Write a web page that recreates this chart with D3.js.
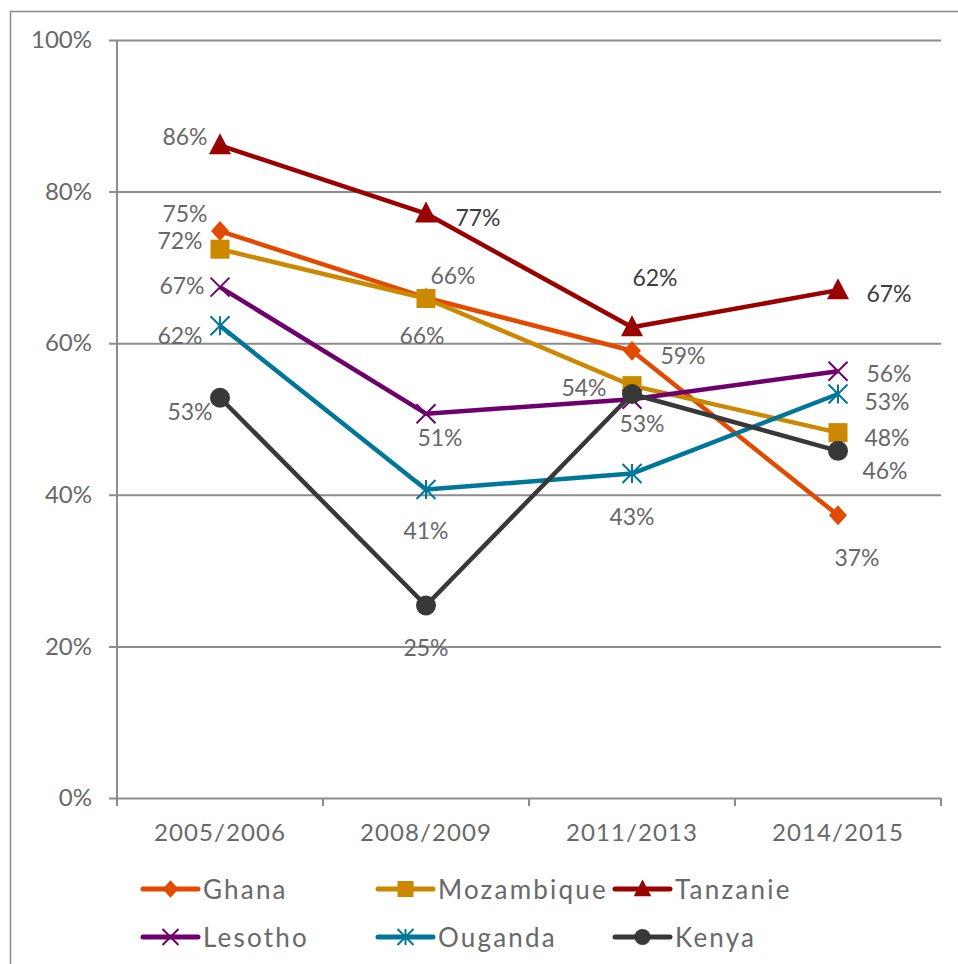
<!DOCTYPE html>
<html><head><meta charset="utf-8">
<script src="https://cdn.jsdelivr.net/npm/d3@7/dist/d3.min.js"></script>
<style>
html,body{margin:0;padding:0;background:#fff;}
text{font-family:"Lato","Noto Sans",sans-serif;}
</style></head>
<body>
<svg id="chart" width="958" height="964"></svg>
<script>
// ---- data ----
const categories = ["2005/2006", "2008/2009", "2011/2013", "2014/2015"];
const seriesNames = ["Ghana", "Mozambique", "Tanzanie", "Lesotho", "Ouganda", "Kenya"];
const ghana      = [74.8, 66.0, 59.0, 37.3];
const mozambique = [72.4, 65.9, 54.4, 48.2];
const tanzanie   = [86.1, 77.1, 62.1, 67.0];
const lesotho    = [67.4, 50.7, 52.6, 56.3];
const ouganda    = [62.3, 40.7, 42.8, 53.3];
const kenya      = [52.8, 25.4, 53.3, 45.8];
const yTicks = [0, 20, 40, 60, 80, 100];

// ---- styles ----
const colors = ["#E24A00", "#CC8800", "#990000", "#6E006E", "#007799", "#383838"];
const symbols = ["diamond", "square", "triangle", "cross", "asterisk", "circle"];
const labelColors = ["#686868", "#686868", ["#686868", "#3c3c3c", "#3c3c3c", "#3c3c3c"], "#686868", "#686868", "#686868"];
// label offsets from point (center of text), per series per point; null = hidden
const labelOffsets = [
  [[-35,-18],[27,-23],[51,4],[19,42]],
  [[-40,-9],[-4,37],[-48,1],[49,4]],
  [[-35,-9],[52,3],[23,-50],[51,3]],
  [[-38,-2],[14,23],[10,24],[51,2]],
  [[-40,9],[0,41],[0,42],[49,7]],
  [[-30,13],[0,42],null,[47,19]]
];
const allValues = [ghana, mozambique, tanzanie, lesotho, ouganda, kenya];

const svg = d3.select("#chart");
const m = {left:117, right:941, top:40, bottom:798};

// outer frame
svg.append("path").attr("d", `M10.5,964 L10.5,11.5 L958,11.5`)
  .attr("fill","none").attr("stroke","#8c8c8c").attr("stroke-width",1.5);

const x = d3.scaleBand().domain(categories).range([m.left, m.right]);
const y = d3.scaleLinear().domain([0,100]).range([m.bottom, m.top]);

// gridlines + y axis
const yAxis = d3.axisLeft(y).tickValues(yTicks).tickFormat(d => d + "%")
  .tickSize(8).tickPadding(17);
const gy = svg.append("g").attr("transform", `translate(${m.left},0)`).call(yAxis);
gy.select(".domain").remove();
gy.selectAll(".tick line").attr("stroke","#8c8c8c").attr("stroke-width",2)
  .attr("x1", -8).attr("x2", m.right - m.left);
gy.selectAll(".tick text").attr("fill","#686868").attr("font-size","24px");
svg.append("line").attr("x1",m.left).attr("x2",m.left).attr("y1",m.top).attr("y2",m.bottom+8)
  .attr("stroke","#8c8c8c").attr("stroke-width",2);

// x axis
const xAxis = d3.axisBottom(x).tickSize(0).tickPadding(26);
const gx = svg.append("g").attr("transform", `translate(0,${m.bottom})`).call(xAxis);
gx.select(".domain").remove();
gx.selectAll(".tick text").attr("fill","#686868").attr("font-size","24px").attr("letter-spacing","1.1px");
const edges = categories.map(c => x(c)).concat([x(categories[categories.length-1]) + x.bandwidth()]);
svg.append("g").selectAll("line").data(edges).join("line")
  .attr("x1", d=>d).attr("x2", d=>d).attr("y1", m.bottom).attr("y2", m.bottom+8)
  .attr("stroke","#8c8c8c").attr("stroke-width",2);

const cx = c => x(c) + x.bandwidth()/2;

function drawMarker(g, type, color, s) {
  if (type === "diamond") {
    g.append("path").attr("d", `M0,${-s*0.55}L${s*0.5},0L0,${s*0.55}L${-s*0.5},0Z`).attr("fill", color);
  } else if (type === "square") {
    g.append("rect").attr("x",-s/2).attr("y",-s/2).attr("width",s).attr("height",s).attr("fill",color);
  } else if (type === "triangle") {
    g.append("path").attr("d", `M0,${-s*0.6}L${s*0.55},${s*0.45}L${-s*0.55},${s*0.45}Z`).attr("fill", color);
  } else if (type === "cross") {
    const h = s/2;
    g.append("path").attr("d", `M${-h},${-h}L${h},${h}M${-h},${h}L${h},${-h}`).attr("stroke", color).attr("stroke-width",2).attr("fill","none");
  } else if (type === "asterisk") {
    const h = s/2;
    g.append("path").attr("d", `M${-h},${-h}L${h},${h}M${-h},${h}L${h},${-h}M0,${-h}L0,${h}`).attr("stroke", color).attr("stroke-width",2).attr("fill","none");
  } else if (type === "circle") {
    g.append("circle").attr("r", s/2).attr("fill", color);
  }
}

const line = d3.line().x((d,i)=>cx(categories[i])).y(d=>y(d));

const markerSizes = [18, 19, 20, 19, 19, 20];

allValues.forEach((vals, si) => {
  const g = svg.append("g");
  g.append("path").datum(vals).attr("d", line).attr("fill","none")
    .attr("stroke", colors[si]).attr("stroke-width", 4.5).attr("stroke-linejoin","round");
  vals.forEach((v,i) => {
    const mg = g.append("g").attr("transform", `translate(${cx(categories[i])},${y(v)})`);
    drawMarker(mg, symbols[si], colors[si], markerSizes[si]);
  });
});

// data labels
allValues.forEach((vals, si) => {
  vals.forEach((v,i) => {
    const off = labelOffsets[si][i];
    if (!off) return;
    const lc = Array.isArray(labelColors[si]) ? labelColors[si][i] : labelColors[si];
    svg.append("text")
      .attr("x", cx(categories[i]) + off[0])
      .attr("y", y(v) + off[1])
      .attr("text-anchor","middle").attr("dominant-baseline","central")
      .attr("font-size","23px").attr("fill", lc)
      .text(Math.round(v) + "%");
  });
});

// legend
const legCols = [143, 378, 615];
const legRows = [889, 937];
seriesNames.forEach((name, si) => {
  const lx = legCols[si % 3], ly = legRows[Math.floor(si/3)];
  const g = svg.append("g").attr("transform", `translate(${lx},${ly})`);
  g.append("line").attr("x1",0).attr("x2",55).attr("y1",0).attr("y2",0)
    .attr("stroke", colors[si]).attr("stroke-width",5).attr("stroke-linecap","round");
  const mg = g.append("g").attr("transform","translate(27.5,0)");
  drawMarker(mg, symbols[si], colors[si], 16);
  g.append("text").attr("x",60).attr("y",0).attr("dominant-baseline","central")
    .attr("font-size","26px").attr("letter-spacing","2.2px").attr("fill","#686868").text(name);
});
</script>
</body></html>
